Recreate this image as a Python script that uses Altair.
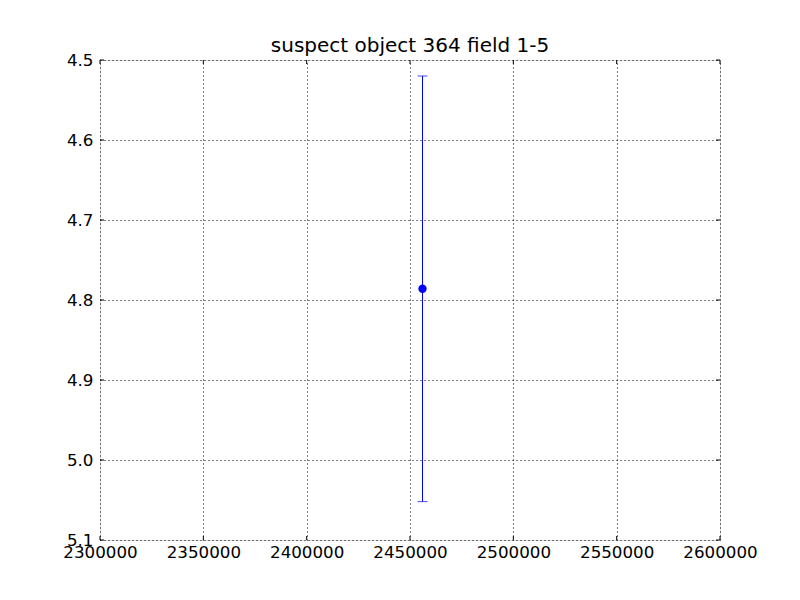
import altair as alt
import pandas as pd

# data
times = [2456050]
values = [4.786]
err_low = [4.52]
err_high = [5.052]

x_ticks = [2300000, 2350000, 2400000, 2450000, 2500000, 2550000, 2600000]
y_ticks = [4.5, 4.6, 4.7, 4.8, 4.9, 5.0, 5.1]

df = pd.DataFrame({"t": times, "v": values, "lo": err_low, "hi": err_high})
dfx = pd.DataFrame({"xt": x_ticks})
dfy = pd.DataFrame({"yt": y_ticks})

W, H, TL = 620, 480, 4

xs = alt.Scale(domain=[2300000, 2600000], nice=False, zero=False)
ys = alt.Scale(domain=[4.5, 5.1], reverse=True, nice=False, zero=False)

xaxis = alt.Axis(values=x_ticks, format="d", title=None, grid=True, gridColor="black",
                 gridDash=[1, 3], gridOpacity=1, labelFont="DejaVu Sans", labelFontSize=16.7,
                 labelColor="black", domain=False, ticks=False, labelPadding=4,
                 labelFlush=False, labelOverlap=False)
yaxis = alt.Axis(values=y_ticks, format=".1f", title=None, grid=True, gridColor="black",
                 gridDash=[1, 3], gridOpacity=1, labelFont="DejaVu Sans", labelFontSize=16.7,
                 labelColor="black", domain=False, ticks=False, labelPadding=7,
                 labelFlush=False, labelOverlap=False)

base = alt.Chart(df)

rule = base.mark_rule(color="blue", strokeWidth=1).encode(
    x=alt.X("t:Q", scale=xs, axis=xaxis),
    y=alt.Y("lo:Q", scale=ys, axis=yaxis),
    y2="hi:Q",
)
cap_lo = base.mark_tick(color="blue", orient="horizontal", size=10, thickness=1).encode(
    x=alt.X("t:Q", scale=xs), y=alt.Y("lo:Q", scale=ys)
)
cap_hi = base.mark_tick(color="blue", orient="horizontal", size=10, thickness=1).encode(
    x=alt.X("t:Q", scale=xs), y=alt.Y("hi:Q", scale=ys)
)
pt = base.mark_point(filled=True, color="blue", opacity=1, size=70, shape="circle").encode(
    x=alt.X("t:Q", scale=xs), y=alt.Y("v:Q", scale=ys)
)

# inward ticks on all four sides
xt_bot = alt.Chart(dfx).mark_rule(color="black", strokeWidth=1).encode(
    x=alt.X("xt:Q", scale=xs), y=alt.value(H), y2=alt.value(H - TL))
xt_top = alt.Chart(dfx).mark_rule(color="black", strokeWidth=1).encode(
    x=alt.X("xt:Q", scale=xs), y=alt.value(0), y2=alt.value(TL))
yt_left = alt.Chart(dfy).mark_rule(color="black", strokeWidth=1).encode(
    y=alt.Y("yt:Q", scale=ys), x=alt.value(0), x2=alt.value(TL))
yt_right = alt.Chart(dfy).mark_rule(color="black", strokeWidth=1).encode(
    y=alt.Y("yt:Q", scale=ys), x=alt.value(W), x2=alt.value(W - TL))

chart = alt.layer(rule, cap_lo, cap_hi, pt, xt_bot, xt_top, yt_left, yt_right).properties(
    width=W, height=H,
    title=alt.TitleParams("suspect object 364 field 1-5", font="DejaVu Sans", fontSize=20,
                          fontWeight="normal", color="black", offset=7, baseline="alphabetic",
                          dy=27),
    autosize=alt.AutoSizeParams(type="none"),
    padding={"left": 92, "top": 52, "right": 72, "bottom": 44},
).configure_view(stroke="black", strokeWidth=1).configure(background="white")

chart.save("out.html", embed_options={"renderer": "svg", "actions": False})
